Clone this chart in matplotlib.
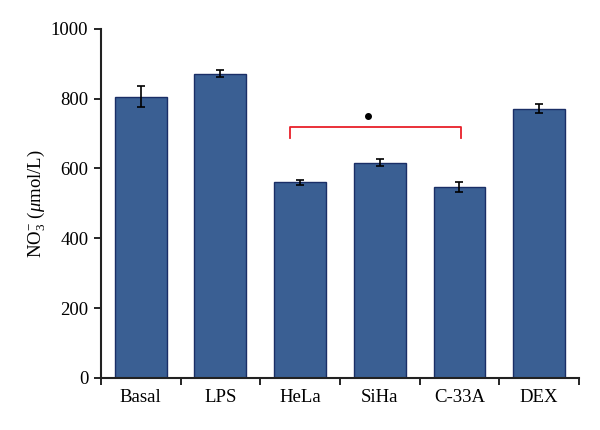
import matplotlib
matplotlib.use("Agg")
import matplotlib.pyplot as plt
import numpy as np

categories = ["Basal", "LPS", "HeLa", "SiHa", "C-33A", "DEX"]
values = [806, 872, 560, 617, 546, 771]
errors = [30, 11, 6, 9, 14, 13]
yticks = [0, 200, 400, 600, 800, 1000]

plt.rcParams['font.family'] = ['Liberation Serif', 'DejaVu Serif']
plt.rcParams['mathtext.fontset'] = 'custom'
plt.rcParams['mathtext.rm'] = 'Liberation Serif'
plt.rcParams['mathtext.it'] = 'Liberation Serif:italic'

fig = plt.figure(figsize=(6, 4.3), dpi=100)
ax = fig.add_axes([0.168, 0.121, 0.797, 0.812])

x = np.arange(len(categories))
ax.bar(x, values, width=0.65, color='#3A5F93', edgecolor='#1A2E66', linewidth=1.0, zorder=2)
ax.errorbar(x, values, yerr=errors, fmt='none', ecolor='black', elinewidth=1.2,
            capsize=3, capthick=1.2, zorder=3)

ax.set_xlim(-0.5, len(categories) - 0.5)
ax.set_ylim(0, 1000)
ax.set_yticks(yticks)
ax.set_yticklabels([str(v) for v in yticks], fontsize=13.5)
ax.set_xticks(x)
ax.set_xticklabels(categories, fontsize=13.5)
ax.tick_params(axis='x', which='major', length=0, pad=8)
ax.set_xticks(np.arange(-0.5, len(categories)), minor=True)
ax.tick_params(axis='x', which='minor', length=5, width=1.2, direction='out')
ax.tick_params(axis='y', length=5, width=1.2, direction='out', pad=4)
for s in ['top', 'right']:
    ax.spines[s].set_visible(False)
for s in ['left', 'bottom']:
    ax.spines[s].set_linewidth(1.5)
    ax.spines[s].set_color('#222222')

ax.set_ylabel(r'NO$_3^{-}$ ($\mathit{\mu}$mol/L)', fontsize=13.5, labelpad=3)

# significance bracket
bx0, bx1 = 1.88, 4.02
ax.plot([bx0, bx0, bx1, bx1], [687, 718, 718, 687], color='#E8202A', lw=1.3, zorder=4)
ax.plot([2.855], [749], marker='o', color='black', markersize=4, zorder=4)

fig.savefig('out.png', dpi=100)
